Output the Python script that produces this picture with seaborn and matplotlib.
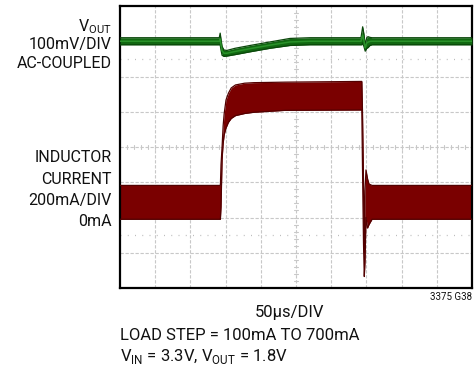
import numpy as np
import pandas as pd
import matplotlib
matplotlib.use("Agg")
import matplotlib.pyplot as plt
import seaborn as sns

# ---------------- data (read from the scope capture) ----------------
# time in microseconds (50 us/DIV, 10 DIV)
vout_t = [0, 141.0, 142.3, 143.5, 145.0, 147.7, 152, 163.4, 184.7, 213.0, 241.5, 270,
          342.3, 343.5, 344.7, 346.5, 348.3, 350.5, 352.3, 355, 358.0, 500]
vout_hi = [10, 10, 23, 5, -15, -25, -26, -20, -12, -2, 8, 10,
           10, 25, 41, 20, -10, 10, 13, 11, 10, 10]          # mV
vout_lo = [-10, -10, -10, -25, -40, -43, -42, -38, -30, -20, -12, -10,
           -10, -10, -5, -15, -28, -20, -18, -12, -10, -10]   # mV

il_t = [0, 142.0, 142.6, 143.5, 145.0, 146.5, 148.0, 150.6, 154, 158, 164, 177, 190, 235,
        343.5, 344.4, 345.9, 347.0, 348.0, 349.4, 351.6, 353.7, 358.0, 500]
il_hi = [182, 182, 182, 300, 400, 520, 590, 667, 705, 735, 752, 762, 765, 768,
         772, 610, 200, -200, 150, 270, 220, 190, 182, 182]   # mA
il_lo = [-10, -10, -10, 60, 330, 420, 470, 508, 540, 562, 578, 590, 597, 608,
         610, 300, -150, -335, -250, 0, -60, -40, -10, -10]   # mA

VOUT_ZERO_DIV = 7.0      # screen division of the Vout trace zero
IL_ZERO_DIV = 2.0        # screen division of 0mA
MV_PER_DIV = 100.0
MA_PER_DIV = 200.0
US_PER_DIV = 50.0

left_labels = [r"V$_{\mathregular{OUT}}$", "100mV/DIV", "AC-COUPLED",
               "INDUCTOR", "CURRENT", "200mA/DIV", "0mA"]

# ---------------- figure ----------------
sns.set_style("white")
plt.rcParams["font.family"] = ["Roboto", "DejaVu Sans"]
plt.rcParams["mathtext.fontset"] = "custom"
plt.rcParams["mathtext.rm"] = "Roboto"

fig = plt.figure(figsize=(4.76, 3.75), dpi=100)
ax = fig.add_axes([120 / 476, 1 - 288 / 375, 352 / 476, 282 / 375])
ax.set_xlim(0, 10 * US_PER_DIV)
ax.set_ylim(0, 8)

# grid
gcol = "#c8c8c8"
for i in range(1, 10):
    ax.axvline(i * US_PER_DIV, color=gcol, lw=0.8, ls=(0, (3, 1.5)), zorder=0)
for j in range(1, 8):
    ax.axhline(j, color=gcol, lw=0.8, ls=(0, (3, 1.5)), zorder=0)
# center-line ticks
for k in range(1, 50):
    x = k * US_PER_DIV / 5
    ax.plot([x, x], [3.94, 4.06], color=gcol, lw=0.8, zorder=0)
for k in range(1, 40):
    y = k / 5
    ax.plot([247.5, 252.5], [y, y], color=gcol, lw=0.8, zorder=0)
# sparse dotted cursor lines
for yy in (6.5, 1.5):
    ax.axhline(yy, color="#bdbdbd", lw=0.9, ls=(0, (0.8, 5)), zorder=0)

# ---------------- traces ----------------
vt = np.array(vout_t)
vh = VOUT_ZERO_DIV + np.array(vout_hi) / MV_PER_DIV
vl = VOUT_ZERO_DIV + np.array(vout_lo) / MV_PER_DIV
it = np.array(il_t)
ih = IL_ZERO_DIV + np.array(il_hi) / MA_PER_DIV
il = IL_ZERO_DIV + np.array(il_lo) / MA_PER_DIV

ax.fill_between(it, il, ih, color="#7a0000", lw=0, zorder=2)
df_i = pd.DataFrame({"t": np.concatenate([it, it]),
                     "v": np.concatenate([ih, il]),
                     "edge": ["hi"] * len(it) + ["lo"] * len(it)})
sns.lineplot(data=df_i, x="t", y="v", units="edge", estimator=None,
             color="#520000", lw=0.9, ax=ax, zorder=3)

ax.fill_between(vt, vl, vh, color="#116811", lw=0, zorder=4)
df_v = pd.DataFrame({"t": np.concatenate([vt, vt]),
                     "v": np.concatenate([vh, vl]),
                     "edge": ["hi"] * len(vt) + ["lo"] * len(vt)})
sns.lineplot(data=df_v, x="t", y="v", units="edge", estimator=None,
             color="#0a470a", lw=0.9, ax=ax, zorder=5)
sns.lineplot(x=vt, y=(vh + vl) / 2, color="#2a922a", lw=1.1, ax=ax, zorder=6)

ax.set_xticks([])
ax.set_yticks([])
ax.set_xlabel("")
ax.set_ylabel("")
for s in ax.spines.values():
    s.set_color("black")
    s.set_linewidth(1.6)
    s.set_visible(True)

# ---------------- text ----------------
fs = 11.5
ys = [26.5, 44.5, 63, 157, 179, 201, 222]
for lab, y in zip(left_labels, ys):
    fig.text(112 / 476, 1 - y / 375, lab, ha="right", va="center", fontsize=fs,
             color="#111111")

tc = "#111111"
fig.text(290 / 476, 1 - 313 / 375, "50µs/DIV", ha="center", va="center", fontsize=12, color=tc)
fig.text(472 / 476, 1 - 297 / 375, "3375 G38", ha="right", va="center", fontsize=7, color=tc)
fig.text(120 / 476, 1 - 336 / 375, "LOAD STEP = 100mA TO 700mA", ha="left", va="center",
         fontsize=12, color=tc)
fig.text(120 / 476, 1 - 357 / 375,
         r"V$_{\mathregular{IN}}$ = 3.3V, V$_{\mathregular{OUT}}$ = 1.8V",
         ha="left", va="center", fontsize=12, color=tc)

fig.savefig("out.png", dpi=100)
